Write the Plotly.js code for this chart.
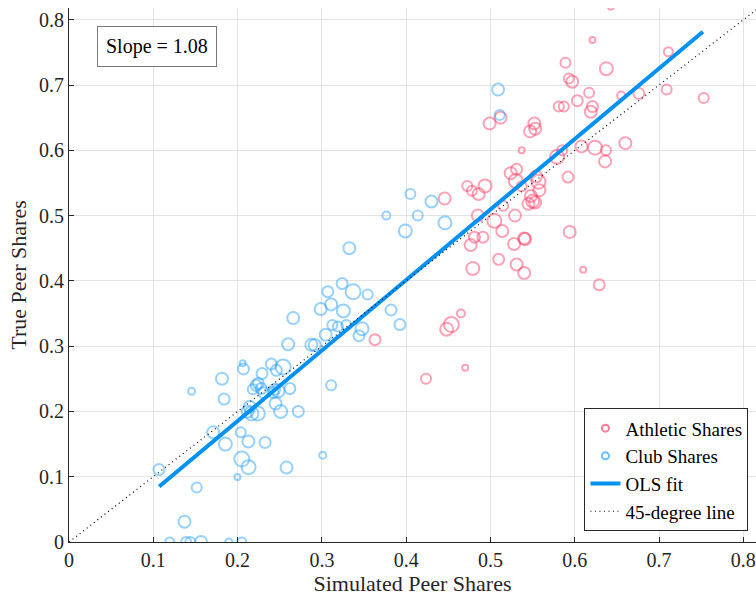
<!DOCTYPE html>
<html><head><meta charset="utf-8">
<script src="https://cdn.plot.ly/plotly-3.0.1.min.js"></script>
<style>body{margin:0;padding:0;background:#fff}#chart{width:756px;height:599px}</style>
</head><body><div id="chart"></div>
<script>
// Athletic shares (simulated x, true y, marker size)
const athX = [0.643,0.621,0.711,0.589,0.6375,0.593,0.597,0.617,0.709,0.676,0.655,0.753,0.603,0.581,0.587,0.621,0.619,0.499,0.512,0.552,0.553,0.547,0.660,0.537,0.608,0.624,0.637,0.636,0.585,0.579,0.592,0.524,0.531,0.530,0.557,0.558,0.4935,0.4725,0.478,0.486,0.4457,0.548,0.550,0.545,0.553,0.485,0.5046,0.515,0.529,0.514,0.594,0.481,0.491,0.4765,0.528,0.540,0.541,0.5097,0.479,0.531,0.540,0.610,0.629,0.465,0.4536,0.448,0.470,0.4235,0.363,0.554,0.537];
const athY = [0.820,0.769,0.751,0.734,0.725,0.710,0.705,0.688,0.693,0.687,0.684,0.680,0.676,0.667,0.667,0.667,0.659,0.641,0.650,0.641,0.633,0.629,0.611,0.600,0.606,0.604,0.600,0.583,0.600,0.590,0.559,0.565,0.571,0.553,0.552,0.539,0.5455,0.5455,0.538,0.533,0.526,0.530,0.522,0.518,0.520,0.500,0.492,0.515,0.500,0.4765,0.475,0.467,0.467,0.455,0.4565,0.465,0.464,0.433,0.419,0.425,0.412,0.417,0.394,0.350,0.333,0.326,0.267,0.250,0.310,0.560,0.545];
const athS = [6,6,9,10,13,10,12,10,10,11,8,10,11,10,10,11,12,12,12,12,12,12,12,6,12,14,10,12,10,14,11,12,11,14,14,12,13,10,10,12,12,12,13,12,12,12,14,10,12,12,12,11,11,12,12,12,12,11,13,12,12,6,11,8,15,13,6,10,11,12,10];
// Club shares
const clubX = [0.509,0.511,0.405,0.430,0.3765,0.4137,0.446,0.399,0.3326,0.324,0.337,0.307,0.3543,0.311,0.2986,0.3255,0.266,0.382,0.3926,0.3124,0.319,0.329,0.3476,0.344,0.3045,0.2915,0.260,0.2875,0.311,0.301,0.206,0.207,0.1815,0.1455,0.240,0.229,0.254,0.246,0.262,0.2245,0.222,0.228,0.218,0.231,0.242,0.248,0.244,0.184,0.2144,0.2164,0.224,0.212,0.245,0.251,0.272,0.171,0.1855,0.2037,0.2128,0.2326,0.205,0.213,0.258,0.1998,0.1068,0.1515,0.137,0.1195,0.139,0.144,0.1566,0.1895,0.205];
const clubY = [0.693,0.654,0.533,0.5215,0.500,0.500,0.489,0.4765,0.450,0.396,0.3835,0.3835,0.379,0.364,0.357,0.354,0.343,0.3554,0.333,0.3324,0.330,0.3324,0.3267,0.316,0.3175,0.3017,0.303,0.302,0.240,0.133,0.274,0.265,0.250,0.231,0.2725,0.258,0.268,0.263,0.235,0.243,0.240,0.235,0.234,0.2285,0.229,0.2315,0.234,0.219,0.207,0.197,0.197,0.200,0.212,0.200,0.200,0.168,0.150,0.168,0.154,0.1525,0.127,0.1146,0.114,0.0997,0.111,0.0834,0.031,0,0,0,0,0,0];
const clubS = [12,10,10,12,8,10,13,13,12,11,15,11,10,12,12,13,12,11,11,10,10,10,13,11,12,12,12,12,10,7,6,11,12,7,11,11,15,11,11,11,11,11,10,11,11,13,11,11,12,14,14,12,12,13,11,12,13,10,12,11,15,14,12,6,11,10,12,9,10,10,12,7,9];
// OLS fit and 45-degree line
const olsSlope = 1.08, olsIntercept = -0.0306;
const olsX = [0.107, 0.752];
const diagX = [0, 0.85];
const slopeLabel = 'Slope = 1.08';

const serif = 'Liberation Serif, Times New Roman, serif';
const redC = 'rgba(255,60,100,0.68)';
const blueC = 'rgba(30,155,255,0.66)';
const traces = [
  {x: athX, y: athY, type:'scatter', mode:'markers', name:'Athletic Shares', showlegend:false,
   marker:{symbol:'circle-open', size: athS, color:redC, line:{width:2}}},
  {x: clubX, y: clubY, type:'scatter', mode:'markers', name:'Club Shares', showlegend:false,
   marker:{symbol:'circle-open', size: clubS, color:blueC, line:{width:2}}},
  {x: olsX, y: olsX.map(v => olsIntercept + olsSlope*v), type:'scatter', mode:'lines', name:'OLS fit', showlegend:false,
   line:{color:'#0091f2', width:4}},
  {x: diagX, y: diagX, type:'scatter', mode:'lines', name:'45-degree line', showlegend:false,
   line:{color:'#000', width:1.2, dash:'1px,3.5px'}},
  // legend entries
  {x:[null], y:[null], type:'scatter', mode:'markers', name:'Athletic Shares', marker:{symbol:'circle-open', size:7, color:redC, line:{width:2}}},
  {x:[null], y:[null], type:'scatter', mode:'markers', name:'Club Shares', marker:{symbol:'circle-open', size:7, color:blueC, line:{width:2}}},
  {x:[null], y:[null], type:'scatter', mode:'lines', name:'OLS fit', line:{color:'#0091f2', width:4}},
  {x:[null], y:[null], type:'scatter', mode:'lines', name:'45-degree line', line:{color:'#000', width:1.2, dash:'1px,3.5px'}}
];
const axisCommon = {
  showgrid:true, gridcolor:'#e3e3e3', gridwidth:1, zeroline:false,
  showline:true, linecolor:'#262626', linewidth:1,
  ticks:'inside', ticklen:5, tickcolor:'#262626',
  tickfont:{family:serif, size:20, color:'#262626'}
};
const ticks = [0,0.1,0.2,0.3,0.4,0.5,0.6,0.7,0.8];
const tickLabels = ['0','0.1','0.2','0.3','0.4','0.5','0.6','0.7','0.8'];
const layout = {
  width:756, height:599,
  margin:{l:69, r:0, t:8, b:57},
  paper_bgcolor:'#fff', plot_bgcolor:'#fff',
  showlegend:true,
  xaxis: Object.assign({}, axisCommon, {range:[0,0.815], tickvals:ticks, ticktext:tickLabels,
    title:{text:'Simulated Peer Shares', font:{family:serif, size:22, color:'#262626'}, standoff:2}}),
  yaxis: Object.assign({}, axisCommon, {range:[0,0.818], tickvals:ticks, ticktext:tickLabels,
    title:{text:'True Peer Shares', font:{family:serif, size:22, color:'#262626'}, standoff:6}}),
  legend:{x:0.989, y:0.02, xanchor:'right', yanchor:'bottom', bgcolor:'#fff', bordercolor:'#262626', borderwidth:1,
    font:{family:serif, size:19, color:'#000'}, tracegroupgap:0, itemwidth:30},
  annotations:[{text: slopeLabel, xref:'paper', yref:'paper', x:0.128, y:0.927, xanchor:'center', yanchor:'middle',
    showarrow:false, font:{family:serif, size:20, color:'#000'}, bordercolor:'#777', borderwidth:1, borderpad:8, bgcolor:'#fff'}]
};
Plotly.newPlot('chart', traces, layout, {displayModeBar:false, staticPlot:true});
</script></body></html>
